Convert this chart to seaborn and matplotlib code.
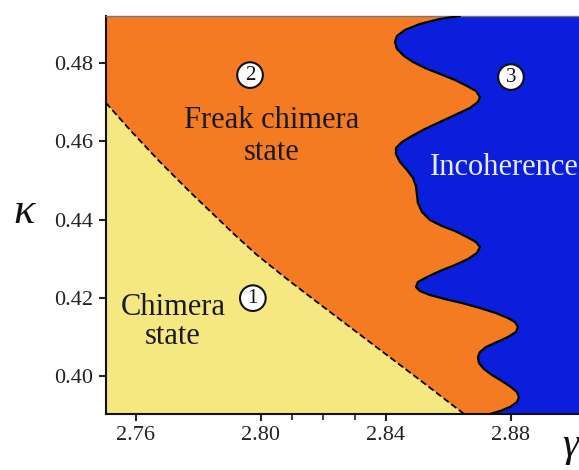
import numpy as np
import pandas as pd
import matplotlib
matplotlib.use("Agg")
import matplotlib.pyplot as plt
import seaborn as sns

# ---- data ----
# dashed boundary between chimera state (1) and freak chimera state (2)
dash_gamma = [2.7504, 2.75808, 2.76768, 2.77728, 2.78464, 2.79168, 2.79872, 2.80832, 2.81792,
              2.82848, 2.83904, 2.85088, 2.8650]
dash_kappa = [0.46978, 0.46288, 0.45470, 0.44703, 0.44141, 0.43604, 0.43093, 0.42479, 0.41891,
              0.41252, 0.40613, 0.39898, 0.3903]

# wavy boundary between freak chimera state (2) and incoherence (3)
wave_gamma = [2.86368, 2.85728, 2.85088, 2.84608, 2.84352, 2.84288, 2.84352, 2.84576, 2.84864,
              2.85248, 2.85728, 2.86208, 2.86592, 2.86880, 2.87008, 2.86944, 2.86688, 2.86208,
              2.85728, 2.85248, 2.84832, 2.84512, 2.84320, 2.84320, 2.84448, 2.84672, 2.84864,
              2.84960, 2.84992, 2.85024, 2.85152, 2.85408, 2.85792, 2.86208, 2.86592, 2.86880,
              2.87008, 2.86912, 2.86624, 2.86208, 2.85728, 2.85312, 2.85024, 2.84960, 2.85088,
              2.85408, 2.85888, 2.86432, 2.87008, 2.87520, 2.87904, 2.88128, 2.88224, 2.88160,
              2.87904, 2.87552, 2.87200, 2.87008, 2.86944, 2.86976, 2.87136, 2.87392, 2.87712,
              2.88000, 2.88192, 2.88256, 2.88192, 2.87968, 2.87648, 2.87328]
wave_kappa = [0.49200, 0.49125, 0.48997, 0.48844, 0.48690, 0.48537, 0.48358, 0.48179, 0.48026,
              0.47872, 0.47719, 0.47566, 0.47412, 0.47284, 0.47131, 0.47003, 0.46850, 0.46671,
              0.46492, 0.46313, 0.46134, 0.45981, 0.45827, 0.45674, 0.45470, 0.45265, 0.45061,
              0.44856, 0.44626, 0.44422, 0.44192, 0.43987, 0.43834, 0.43706, 0.43553, 0.43425,
              0.43297, 0.43144, 0.42990, 0.42837, 0.42684, 0.42530, 0.42403, 0.42275, 0.42173,
              0.42070, 0.41968, 0.41866, 0.41738, 0.41610, 0.41482, 0.41380, 0.41252, 0.41125,
              0.40997, 0.40869, 0.40741, 0.40613, 0.40486, 0.40332, 0.40179, 0.40026, 0.39872,
              0.39719, 0.39591, 0.39463, 0.39335, 0.39208, 0.39105, 0.39029]

x_major = [2.76, 2.80, 2.84, 2.88]
x_minor = [2.81, 2.82, 2.83]
y_major = [0.40, 0.42, 0.44, 0.46, 0.48]
x_labels = ["2.76", "2.80", "2.84", "2.88"]
y_labels = ["0.40", "0.42", "0.44", "0.46", "0.48"]

xlim = (2.7504, 2.9037)
ylim = (0.3903, 0.4920)

ORANGE = "#F47B22"
YELLOW = "#F6E880"
BLUE = "#0A1EDC"

sns.set_theme(style="white")
plt.rcParams["font.family"] = ["Liberation Serif", "DejaVu Serif"]

fig = plt.figure(figsize=(5.79, 4.70), dpi=100)
ax = fig.add_axes([106 / 579, 56 / 470, (585 - 106) / 579, (414 - 16) / 470])
ax.set_facecolor(ORANGE)

dash_df = pd.DataFrame({"gamma": dash_gamma, "kappa": dash_kappa})
wave_df = pd.DataFrame({"gamma": wave_gamma, "kappa": wave_kappa})

# yellow region below dashed curve
ax.fill_between(dash_gamma, dash_kappa, ylim[0] - 0.01, color=YELLOW, lw=0, zorder=1)
# blue region right of wavy curve
ax.fill_betweenx(wave_kappa, wave_gamma, xlim[1] + 0.01, color=BLUE, lw=0, zorder=1)

sns.lineplot(data=dash_df, x="gamma", y="kappa", ax=ax, color="black", lw=1.3,
             linestyle=(0, (3.5, 1.8)), sort=False, estimator=None, zorder=3)
sns.lineplot(data=wave_df, x="gamma", y="kappa", ax=ax, color="black", lw=1.6,
             sort=False, estimator=None, zorder=3)

ax.set_xlim(*xlim)
ax.set_ylim(*ylim)
ax.set_xticks(x_major)
ax.set_xticklabels(x_labels)
ax.set_xticks(x_minor, minor=True)
ax.set_yticks(y_major)
ax.set_yticklabels(y_labels)
ax.tick_params(axis="both", which="major", direction="out", length=5, width=1.5,
               labelsize=16, colors="#222222", pad=4)
ax.tick_params(axis="x", which="minor", direction="out", length=4, width=1.2,
               color="#222222", bottom=True)
ax.tick_params(left=True, bottom=True)
ax.set_xlabel("")
ax.set_ylabel("")
for s in ["left", "bottom"]:
    ax.spines[s].set_color("#111111")
    ax.spines[s].set_linewidth(1.5)
ax.spines["top"].set_color("#777777")
ax.spines["top"].set_linewidth(1.0)
ax.spines["right"].set_visible(False)

# axis symbols
fig.text(24 / 579, 1 - 212 / 470, "κ", fontsize=32, style="italic", ha="center", va="center",
         color="#111111")
fig.text(570 / 579, 1 - 446 / 470, "γ", fontsize=30, style="italic", ha="center", va="center",
         color="#111111")

# region labels
ax.text(2.8035, 0.4612, "Freak chimera\nstate", fontsize=22, ha="center", va="center",
        linespacing=1.15, color="#1a1a1a", zorder=4)
ax.text(2.7718, 0.4137, "Chimera\nstate", fontsize=22, ha="center", va="center",
        linespacing=1.0, color="#1a1a1a", zorder=4)
ax.text(2.8541, 0.4534, "Incoherence", fontsize=22, ha="left", va="center",
        color="#E8ECFF", zorder=4)

for (xx, yy, lab) in [(2.7965, 0.4769, "2"), (2.7974, 0.4199, "1"), (2.8800, 0.4764, "3")]:
    ax.text(xx, yy, lab, fontsize=15, ha="center", va="center", color="#111111", zorder=5,
            bbox=dict(boxstyle="circle,pad=0.16", fc="white", ec="#111111", lw=1.5))

fig.savefig("out.png", dpi=100)
